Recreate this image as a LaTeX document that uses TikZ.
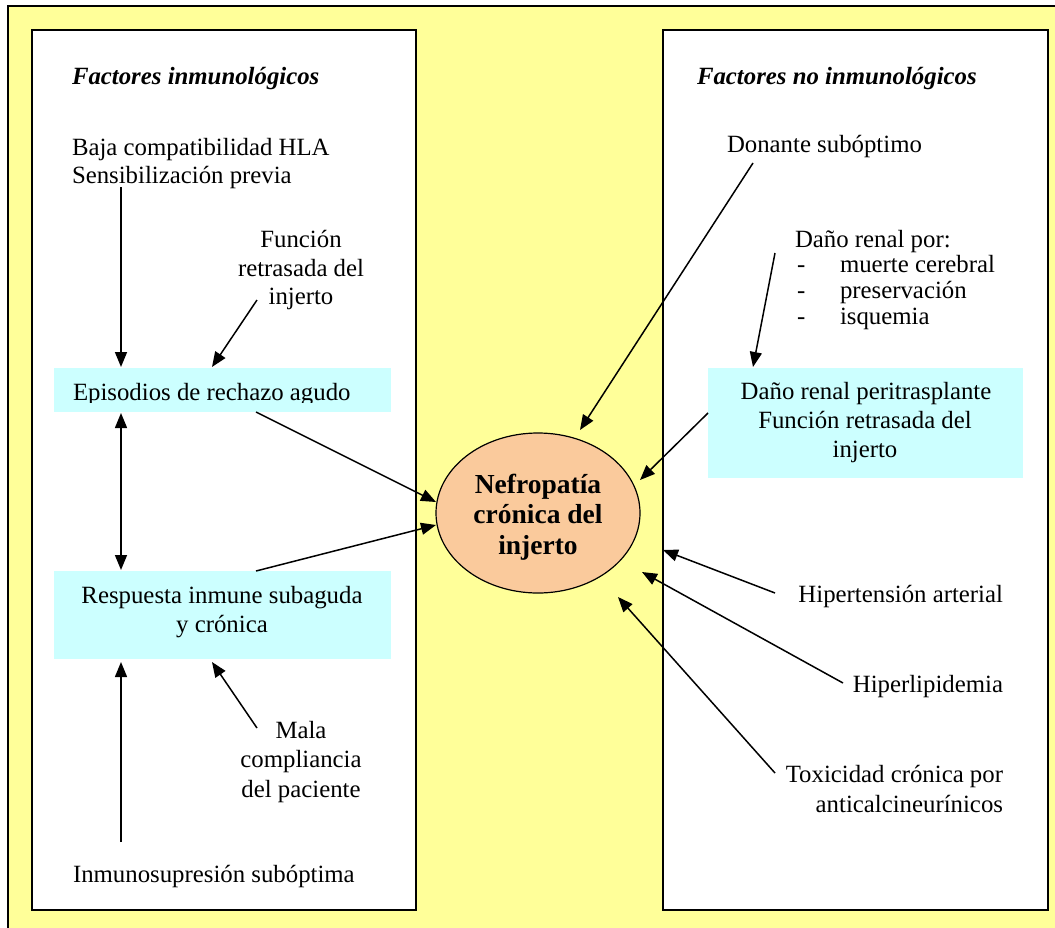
\documentclass[tikz,border=0pt]{standalone}
\usepackage{fontspec}
\setmainfont{Liberation Serif}
\usetikzlibrary{arrows.meta,shapes.geometric}
\definecolor{bgyellow}{HTML}{FFFF99}
\definecolor{boxcyan}{HTML}{CCFFFF}
\definecolor{peach}{HTML}{FACA9C}
\begin{document}
\begin{tikzpicture}[x=1pt,y=-1pt,
  txt/.style={font=\fontsize{24.8}{28}\selectfont, inner sep=0pt, outer sep=0pt},
  head/.style={txt, font=\fontsize{24.8}{28}\selectfont\bfseries\itshape},
  panel/.style={draw=black, line width=2pt, fill=white, inner sep=0pt, anchor=north west},
  cyanbox/.style={fill=boxcyan, draw=none, inner sep=0pt, anchor=north west},
  arr/.style={line width=1.5pt, -{Triangle[length=15pt,width=12pt]}},
  darr/.style={line width=1.5pt, {Triangle[length=15pt,width=12pt]}-{Triangle[length=15pt,width=12pt]}}]
\useasboundingbox (0,0) rectangle (1055,927);
\clip (0,0) rectangle (1055,927);
\fill[white] (0,0) rectangle (1055,927);
\draw[fill=bgyellow, line width=1.3pt] (8,6) rectangle (1075,950);

% panels
\node[panel, minimum width=384pt, minimum height=880pt] (leftp) at (31,29) {};
\node[panel, minimum width=385pt, minimum height=880pt] (rightp) at (662,29) {};

% cyan boxes
\node[cyanbox, minimum width=337pt, minimum height=44pt] (epi) at (54,368) {};
\node[cyanbox, minimum width=337pt, minimum height=88pt] (resp) at (54,571) {};
\node[cyanbox, minimum width=315pt, minimum height=110pt] (dano) at (708,368) {};

% central ellipse
\node[ellipse, draw=black, line width=1.2pt, fill=peach, minimum width=204pt, minimum height=160pt, inner sep=0pt] (nef) at (538,513) {};
\node[font=\fontsize{27.5}{30.5}\selectfont\bfseries, align=center, inner sep=0pt] (neftxt) at (538,517) {Nefropatía\\crónica del\\injerto};

% headings
\node[head, anchor=base west] (hl) at (72,84) {Factores inmunológicos};
\node[head, anchor=base west] (hr) at (697,84) {Factores no inmunológicos};

% left texts
\node[txt, anchor=base west] (baja) at (72,155) {Baja compatibilidad HLA};
\node[txt, anchor=base west] (sens) at (72,183) {Sensibilización previa};
\node[txt, anchor=base] (fun1) at (301,247) {Función};
\node[txt, anchor=base] (fun2) at (301,276) {retrasada del};
\node[txt, anchor=base] (fun3) at (301,304) {injerto};
\begin{scope}
\clip (54,368) rectangle (391,402);
\node[txt, anchor=base west] (epitxt) at (73,400) {Episodios de rechazo agudo};
\end{scope}
\node[txt, anchor=base] (resp1) at (222,603) {Respuesta inmune subaguda};
\node[txt, anchor=base] (resp2) at (222,632) {y crónica};
\node[txt, anchor=base] (mala1) at (301,738) {Mala};
\node[txt, anchor=base] (mala2) at (301,767) {compliancia};
\node[txt, anchor=base] (mala3) at (301,797) {del paciente};
\node[txt, anchor=base west] (inmu) at (73,882) {Inmunosupresión subóptima};

% right texts
\node[txt, anchor=base west] (don) at (727,152) {Donante subóptimo};
\node[txt, anchor=base west] (dr0) at (795,247) {Daño renal por:};
\node[txt, anchor=base west] (dd1) at (797,272) {-};
\node[txt, anchor=base west] (dr1) at (840,272) {muerte cerebral};
\node[txt, anchor=base west] (dd2) at (797,298) {-};
\node[txt, anchor=base west] (dr2) at (840,298) {preservación};
\node[txt, anchor=base west] (dd3) at (797,324) {-};
\node[txt, anchor=base west] (dr3) at (840,324) {isquemia};
\node[txt, anchor=base] (dp1) at (866,399) {Daño renal peritrasplante};
\node[txt, anchor=base] (dp2) at (865,428) {Función retrasada del};
\node[txt, anchor=base] (dp3) at (865,457) {injerto};
\node[txt, anchor=base east] (hta) at (1003,602) {Hipertensión arterial};
\node[txt, anchor=base east] (hlp) at (1003,692) {Hiperlipidemia};
\node[txt, anchor=base east] (tox1) at (1003,782) {Toxicidad crónica por};
\node[txt, anchor=base east] (tox2) at (1003,812) {anticalcineurínicos};

% connector ends
\coordinate (s1) at (121,187);  \coordinate (e1) at (121,367);
\coordinate (s2) at (257,300);  \coordinate (e2) at (212,367);
\coordinate (s3) at (121,413);  \coordinate (e3) at (121,570);
\coordinate (s4) at (256,412);  \coordinate (e4) at (436,502);
\coordinate (s5) at (256,571);  \coordinate (e5) at (436,525);
\coordinate (s6) at (121,842);  \coordinate (e6) at (121,662);
\coordinate (s7) at (257,728);  \coordinate (e7) at (212,662);
\coordinate (s8) at (753,163);  \coordinate (e8) at (580,430);
\coordinate (s9) at (775,253);  \coordinate (e9) at (753,367);
\coordinate (s10) at (708,413); \coordinate (e10) at (640,480);
\coordinate (s11) at (775,593); \coordinate (e11) at (663,550);
\coordinate (s12) at (843,683); \coordinate (e12) at (642,572);
\coordinate (s13) at (775,773); \coordinate (e13) at (618,597);

\draw[arr] (s1) -- (e1);
\draw[arr] (s2) -- (e2);
\draw[darr] (s3) -- (e3);
\draw[arr] (s4) -- (e4);
\draw[arr] (s5) -- (e5);
\draw[arr] (s6) -- (e6);
\draw[arr] (s7) -- (e7);
\draw[arr] (s8) -- (e8);
\draw[arr] (s9) -- (e9);
\draw[arr] (s10) -- (e10);
\draw[arr] (s11) -- (e11);
\draw[arr] (s12) -- (e12);
\draw[arr] (s13) -- (e13);
\end{tikzpicture}
\end{document}
